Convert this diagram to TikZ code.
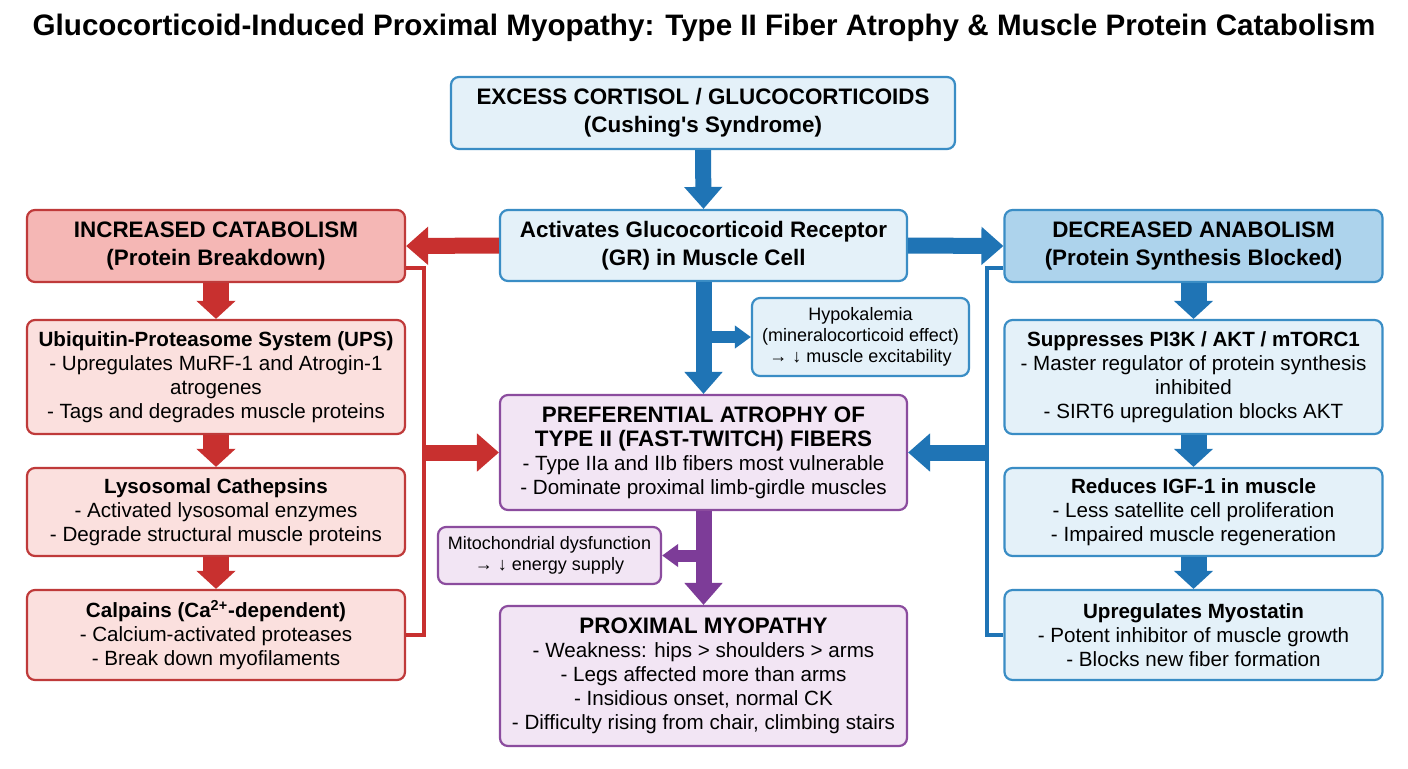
\documentclass[tikz,border=0pt]{standalone}
\usepackage{fontspec}
\setmainfont{Liberation Sans}
\usetikzlibrary{arrows.meta,positioning}
\definecolor{bluedge}{HTML}{3A8DC5}
\definecolor{bluefill}{HTML}{E4F1F9}
\definecolor{anabfill}{HTML}{ADD3EC}
\definecolor{bluearr}{HTML}{1F74B5}
\definecolor{rededge}{HTML}{BF3A3A}
\definecolor{redfill}{HTML}{FBE0DE}
\definecolor{catabfill}{HTML}{F5B7B5}
\definecolor{redarr}{HTML}{C8302F}
\definecolor{puredge}{HTML}{8B4C9E}
\definecolor{purfill}{HTML}{F2E5F4}
\definecolor{purarr}{HTML}{7D3C98}
\newcommand{\hdfont}{\fontsize{11.2}{14}\selectfont\bfseries}
\newcommand{\bdfont}{\fontsize{10.3}{12}\selectfont}
\newcommand{\smfont}{\fontsize{9}{10.5}\selectfont}
\newcommand{\hdtext}[1]{{\fontsize{11.2}{12}\selectfont\bfseries #1}}
\tikzset{
  box/.style={rounded corners=4pt, line width=1.1pt, align=center, inner sep=0pt},
  bluebox/.style={box, draw=bluedge, fill=bluefill},
  redbox/.style={box, draw=rededge, fill=redfill},
  purbox/.style={box, draw=puredge, fill=purfill},
  sidebox/.style={minimum width=189pt},
  midbox/.style={minimum width=203.5pt},
  bigarrow/.style={line width=8pt, -{Triangle[width=18.5pt,length=11pt]}},
  chainarrow/.style={line width=13pt, -{Triangle[width=19pt,length=9pt]}},
  smallarrow/.style={line width=6pt, -{Triangle[width=11pt,length=8pt]}},
  sideline/.style={line width=1.6pt},
}
\begin{document}
\begin{tikzpicture}[x=0.5pt,y=-0.5pt]
\fill[white] (0,0) rectangle (1408,768);
\useasboundingbox (0,0) rectangle (1408,768);
\node[font=\fontsize{14.8}{18}\selectfont\bfseries] (title) at (704,28) {Glucocorticoid-Induced Proximal Myopathy: Type II Fiber Atrophy \& Muscle Protein Catabolism};

\node[bluebox, font=\hdfont, minimum width=252pt, minimum height=36pt] (cort) at (703,113) {EXCESS CORTISOL / GLUCOCORTICOIDS\\(Cushing\textquotesingle s Syndrome)};
\node[bluebox, midbox, font=\hdfont, minimum height=35.5pt] (gr) at (703.5,245.5) {Activates Glucocorticoid Receptor\\(GR) in Muscle Cell};
\node[bluebox, font=\smfont, minimum width=108.5pt, minimum height=39pt] (hypo) at (860.5,337) {Hypokalemia\\(mineralocorticoid effect)\\→ ↓ muscle excitability};
\node[purbox, midbox, font=\bdfont, minimum height=57.5pt] (pref) at (703.5,452.5) {\hdtext{PREFERENTIAL ATROPHY OF}\\\hdtext{TYPE II (FAST-TWITCH) FIBERS}\\- Type IIa and IIb fibers most vulnerable\\- Dominate proximal limb-girdle muscles};
\node[purbox, font=\smfont, minimum width=111.5pt, minimum height=28.5pt] (mito) at (549.5,555.5) {Mitochondrial dysfunction\\→ ↓ energy supply};
\node[purbox, midbox, font=\bdfont, minimum height=70pt] (prox) at (703.5,676) {\hdtext{PROXIMAL MYOPATHY}\\- Weakness: hips > shoulders > arms\\- Legs affected more than arms\\- Insidious onset, normal CK\\- Difficulty rising from chair, climbing stairs};

\node[redbox, sidebox, fill=catabfill, font=\hdfont, minimum height=36pt] (catab) at (216,246) {INCREASED CATABOLISM\\(Protein Breakdown)};
\node[redbox, sidebox, font=\bdfont, minimum height=57pt] (ups) at (216,377) {\textbf{Ubiquitin-Proteasome System (UPS)}\\- Upregulates MuRF-1 and Atrogin-1\\atrogenes\\- Tags and degrades muscle proteins};
\node[redbox, sidebox, font=\bdfont, minimum height=44pt] (lyso) at (216,512) {\textbf{Lysosomal Cathepsins}\\- Activated lysosomal enzymes\\- Degrade structural muscle proteins};
\node[redbox, sidebox, font=\bdfont, minimum height=45pt] (calp) at (216,635) {\textbf{Calpains (Ca\textsuperscript{2+}-dependent)}\\- Calcium-activated proteases\\- Break down myofilaments};

\node[bluebox, sidebox, fill=anabfill, font=\hdfont, minimum height=36pt] (anab) at (1193.5,246) {DECREASED ANABOLISM\\(Protein Synthesis Blocked)};
\node[bluebox, sidebox, font=\bdfont, minimum height=57pt] (pik) at (1193.5,377) {\textbf{Suppresses PI3K / AKT / mTORC1}\\- Master regulator of protein synthesis\\inhibited\\- SIRT6 upregulation blocks AKT};
\node[bluebox, sidebox, font=\bdfont, minimum height=44pt] (igf) at (1193.5,512) {\textbf{Reduces IGF-1 in muscle}\\- Less satellite cell proliferation\\- Impaired muscle regeneration};
\node[bluebox, sidebox, font=\bdfont, minimum height=45pt] (myo) at (1193.5,635) {\textbf{Upregulates Myostatin}\\- Potent inhibitor of muscle growth\\- Blocks new fiber formation};

\draw[bigarrow, bluearr] (cort.south) -- (gr.north);
\draw[bigarrow, redarr] (gr.west) -- (catab.east);
\draw[bigarrow, bluearr] (gr.east) -- (anab.west);
\draw[bigarrow, bluearr] (gr.south) -- (pref.north);
\coordinate (hb) at (703.5,337);
\draw[smallarrow, bluearr] (hb) -- (hypo.west);
\draw[bigarrow, purarr] (pref.south) -- (prox.north);
\coordinate (mb) at (703.5,555.5);
\draw[smallarrow, purarr] (mb) -- (mito.east);

\draw[chainarrow, redarr] (catab.south) -- (ups.north);
\draw[chainarrow, redarr] (ups.south) -- (lyso.north);
\draw[chainarrow, redarr] (lyso.south) -- (calp.north);
\draw[chainarrow, bluearr] (anab.south) -- (pik.north);
\draw[chainarrow, bluearr] (pik.south) -- (igf.north);
\draw[chainarrow, bluearr] (igf.south) -- (myo.north);

\coordinate (lt) at (424,268);
\coordinate (lb) at (424,635);
\coordinate (lm) at (424,452.5);
\draw[sideline, redarr] (catab.east |- lt) -- (lt) -- (lb) -- (calp.east);
\draw[bigarrow, redarr] (lm) -- (pref.west);
\coordinate (rt) at (987,268);
\coordinate (rb) at (987,635);
\coordinate (rm) at (987,452.5);
\draw[sideline, bluearr] (anab.west |- rt) -- (rt) -- (rb) -- (myo.west);
\draw[bigarrow, bluearr] (rm) -- (pref.east);
\end{tikzpicture}
\end{document}
